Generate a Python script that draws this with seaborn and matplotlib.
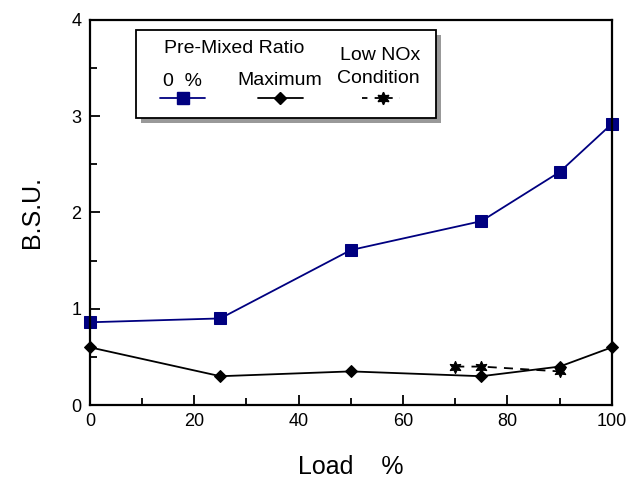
import matplotlib
matplotlib.use("Agg")
import matplotlib.pyplot as plt
import seaborn as sns
import pandas as pd
from matplotlib.lines import Line2D
from matplotlib.patches import Rectangle
from matplotlib.ticker import MultipleLocator

load_0 = [0, 25, 50, 75, 90, 100]
bsu_0 = [0.86, 0.90, 1.61, 1.91, 2.42, 2.92]
load_max = [0, 25, 50, 75, 90, 100]
bsu_max = [0.60, 0.30, 0.35, 0.30, 0.40, 0.60]
load_lownox = [70, 75, 90]
bsu_lownox = [0.40, 0.40, 0.35]

sns.set_style("ticks")
plt.rcParams['font.family'] = ['Liberation Sans', 'DejaVu Sans']
plt.rcParams['text.color'] = 'black'
plt.rcParams['axes.labelcolor'] = 'black'

fig = plt.figure(figsize=(6.42, 4.84), dpi=100)
ax = fig.add_axes([0.140, 0.163, 0.813, 0.796])

navy = "#000080"
star = (6, 1, 0)

sns.lineplot(x=load_0, y=bsu_0, ax=ax, color=navy, marker="s", markersize=8,
             markeredgecolor=navy, linewidth=1.3, clip_on=False)
sns.lineplot(x=load_max, y=bsu_max, ax=ax, color="black", marker="D", markersize=6.5,
             markeredgecolor="black", linewidth=1.3, clip_on=False)
sns.lineplot(x=load_lownox, y=bsu_lownox, ax=ax, color="black", marker=star, markersize=9,
             markeredgecolor="black", linewidth=1.3, linestyle=(0, (5, 4)), clip_on=False)

ax.set_xlim(0, 100)
ax.set_ylim(0, 4)
ax.xaxis.set_major_locator(MultipleLocator(20))
ax.xaxis.set_minor_locator(MultipleLocator(10))
ax.yaxis.set_major_locator(MultipleLocator(1))
ax.yaxis.set_minor_locator(MultipleLocator(0.5))
ax.tick_params(which="both", direction="in", labelsize=13, width=1.3, colors="black",
               labelcolor="black")
ax.tick_params(which="major", length=7, pad=6)
ax.tick_params(which="minor", length=5)
for s in ax.spines.values():
    s.set_linewidth(1.6)
    s.set_color("black")
    s.set_visible(True)

ax.set_xlabel("Load    %", fontsize=18, labelpad=18, color="black")
ax.set_ylabel("B.S.U.", fontsize=18, labelpad=20, color="black")

# legend box
def fx(px):
    return (px - 90) / 522.0
def fy(py):
    return (405 - py) / 385.0

shadow = Rectangle((fx(141), fy(123)), fx(441) - fx(141), fy(35) - fy(123),
                   transform=ax.transAxes, facecolor="#999999", edgecolor="none", zorder=5)
box = Rectangle((fx(136), fy(118)), fx(436) - fx(136), fy(30) - fy(118),
                transform=ax.transAxes, facecolor="white", edgecolor="black", linewidth=1.3, zorder=6)
ax.add_patch(shadow)
ax.add_patch(box)

tk = dict(transform=ax.transAxes, ha="center", va="center", fontsize=14, zorder=7, color="black")
ax.text(fx(234), fy(49), "Pre-Mixed Ratio", **tk)
ax.text(fx(183), fy(82), "0  %", **tk)
ax.text(fx(280), fy(81), "Maximum", **tk)
ax.text(fx(380), fy(56), "Low NOx", **tk)
ax.text(fx(378), fy(79), "Condition", **tk)

yh = fy(98)
ax.add_line(Line2D([fx(160), fx(205)], [yh, yh], transform=ax.transAxes, color=navy, lw=1.3, zorder=7))
ax.add_line(Line2D([fx(183)], [yh], transform=ax.transAxes, color=navy, marker="s", markersize=8, zorder=8))
ax.add_line(Line2D([fx(258), fx(303)], [yh, yh], transform=ax.transAxes, color="black", lw=1.3, zorder=7))
ax.add_line(Line2D([fx(280)], [yh], transform=ax.transAxes, color="black", marker="D", markersize=6.5, zorder=8))
ax.add_line(Line2D([fx(362), fx(400)], [yh, yh], transform=ax.transAxes, color="black", lw=1.3,
                   linestyle=(0, (3, 4)), zorder=7))
ax.add_line(Line2D([fx(383)], [yh], transform=ax.transAxes, color="black", marker=star, markersize=9, zorder=8))

fig.savefig("out.png", dpi=100)
